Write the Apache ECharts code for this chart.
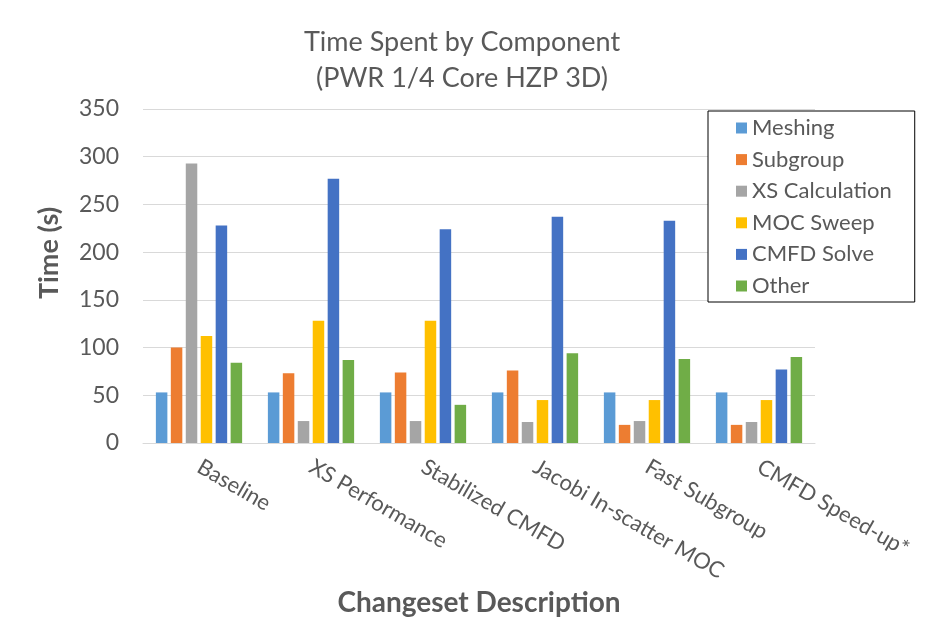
<!DOCTYPE html>
<html>
<head>
<meta charset="utf-8">
<script src="https://cdn.jsdelivr.net/npm/echarts@6/dist/echarts.min.js"></script>
<style>
  html, body { margin: 0; padding: 0; background: #ffffff; }
  #chart { width: 937px; height: 622px; }
</style>
</head>
<body>
<div id="chart"></div>
<script>
// Changesets (x categories)
const categories = ['Baseline', 'XS Performance', 'Stabilized CMFD', 'Jacobi In-scatter MOC', 'Fast Subgroup', 'CMFD Speed-up*'];

// Time spent per component, seconds
const meshing        = [53, 53, 53, 53, 53, 53];
const subgroup       = [100, 73, 74, 76, 19, 19];
const xsCalculation  = [293, 23, 23, 22, 23, 22];
const mocSweep       = [112, 128, 128, 45, 45, 45];
const cmfdSolve      = [228, 277, 224, 237, 233, 77];
const other          = [84, 87, 40, 94, 88, 90];

const seriesNames = ['Meshing', 'Subgroup', 'XS Calculation', 'MOC Sweep', 'CMFD Solve', 'Other'];
const seriesData  = [meshing, subgroup, xsCalculation, mocSweep, cmfdSolve, other];
const colors = ['#5B9BD5', '#ED7D31', '#A5A5A5', '#FFC000', '#4472C4', '#70AD47'];

const FONT = 'Lato, "Open Sans", sans-serif';
const TEXT = '#595959';

const chart = echarts.init(document.getElementById('chart'), null, { renderer: 'canvas' });

chart.setOption({
  backgroundColor: '#ffffff',
  color: colors,
  animation: false,
  title: {
    text: 'Time Spent by Component\n(PWR 1/4 Core HZP 3D)',
    left: 457,
    textAlign: 'center',
    top: 19,
    textStyle: { fontFamily: FONT, fontSize: 27, fontWeight: 'normal', color: TEXT, lineHeight: 36 }
  },
  legend: {
    orient: 'vertical',
    left: 708,
    top: 111,
    padding: [6, 23, 5, 28],
    borderColor: '#000000',
    borderWidth: 1,
    backgroundColor: '#ffffff',
    itemWidth: 11,
    itemHeight: 11,
    itemGap: 9.6,
    icon: 'rect',
    textStyle: { fontFamily: FONT, fontSize: 22, color: TEXT },
    data: seriesNames
  },
  grid: { left: 143, right: 122, top: 109, bottom: 179, containLabel: false },
  xAxis: {
    type: 'category',
    data: categories,
    axisLine: { lineStyle: { color: '#D9D9D9', width: 1 } },
    axisTick: { show: false },
    axisLabel: {
      rotate: -30,
      margin: 22,
      fontFamily: FONT,
      fontSize: 22,
      color: TEXT
    },
    name: 'Changeset Description',
    nameLocation: 'middle',
    nameGap: 145,
    nameTextStyle: { fontFamily: FONT, fontSize: 28, fontWeight: 'bold', color: TEXT }
  },
  yAxis: {
    type: 'value',
    min: 0,
    max: 350,
    interval: 50,
    axisLine: { show: false },
    axisTick: { show: false },
    splitLine: { lineStyle: { color: '#D9D9D9', width: 1 } },
    axisLabel: { fontFamily: FONT, fontSize: 23, color: TEXT, margin: 24 },
    name: 'Time (s)',
    nameLocation: 'middle',
    nameGap: 80,
    nameRotate: 90,
    nameTextStyle: { fontFamily: FONT, fontSize: 27, fontWeight: 'bold', color: TEXT, padding: [0, 0, 0, 46] }
  },
  series: seriesNames.map((n, i) => ({
    name: n,
    type: 'bar',
    data: seriesData[i],
    barWidth: 11.5,
    barGap: '30%',
    barCategoryGap: '23%'
  }))
});
</script>
</body>
</html>
